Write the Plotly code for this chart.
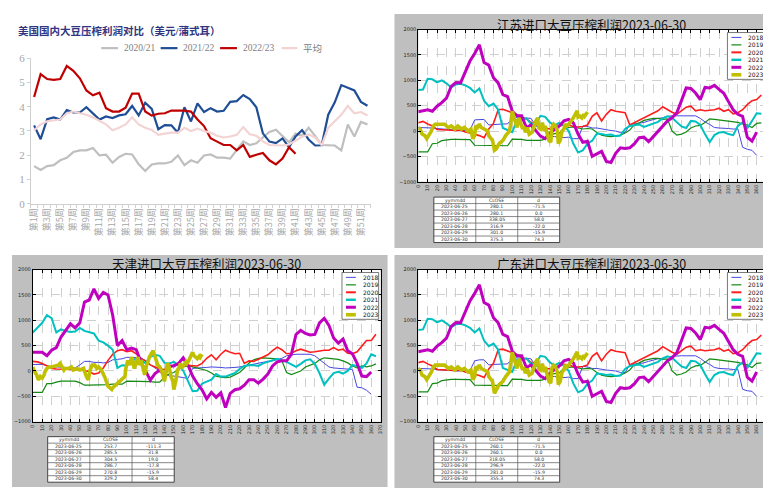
import plotly.graph_objects as go

W, H = 771, 488


def fx(p):
    return p / W


def fy(p):
    return 1 - p / H


# ---------------- panel 1: US soybean crush margin (USD/bushel) ----------------
week_no = list(range(1, 53))
week_labels = ["第%d周" % i for i in week_no]
us_names = ["2020/21", "2021/22", "2022/23", "平均"]
us_2020_21 = [1.55, 1.39, 1.55, 1.59, 1.79, 1.89, 2.13, 2.2, 2.2, 2.3,
              1.99, 2.02, 1.69, 1.93, 2.06, 2.03, 1.63, 1.35, 1.62, 1.66,
              1.66, 1.73, 1.99, 1.59, 1.79, 1.69, 1.99, 2.03, 1.9, 1.9,
              1.86, 2.2, 2.57, 2.42, 2.49, 2.73, 2.96, 3.05, 2.8, 2.53,
              2.89, 2.8, 3.13, 2.8, 2.42, 2.4, 2.4, 2.2, 3.27, 2.77,
              3.37, 3.27]
us_2021_22 = [3.23, 2.66, 3.49, 3.56, 3.47, 3.86, 3.76, 3.76, 3.98, 3.73,
              3.47, 3.6, 3.53, 3.64, 3.69, 4.03, 3.64, 4.16, 3.91, 3.07,
              3.24, 3.23, 2.93, 3.98, 3.39, 4.14, 3.78, 3.94, 3.8, 3.83,
              4.2, 4.23, 4.48, 4.31, 3.98, 2.9, 2.56, 2.5, 2.69, 2.33,
              2.77, 3.03, 2.65, 2.4, 2.41, 3.67, 4.18, 4.89, 4.77, 4.67,
              4.2, 4.04]
us_2022_23 = [4.4, 5.34, 5.14, 5.11, 5.14, 5.68, 5.48, 5.17, 4.67, 4.47,
              4.58, 3.94, 3.8, 3.8, 3.96, 4.54, 4.54, 3.8, 3.63, 3.71,
              3.73, 3.84, 3.84, 3.84, 3.8, 3.47, 3.2, 2.7, 2.56, 2.42,
              2.42, 2.2, 2.42, 1.93, 2.02, 2.09, 1.79, 1.62, 1.86, 2.33,
              2.06, None, None, None, None, None, None, None, None, None,
              None, None]
us_avg = [3.03, 3.27, 3.4, 3.43, 3.47, 3.73, 3.8, 3.73, 3.67, 3.56,
          3.43, 3.27, 3.03, 3.13, 3.27, 3.56, 3.27, 3.13, 3.04, 2.84,
          2.89, 2.93, 2.93, 3.13, 3.0, 3.09, 3.0, 2.93, 2.8, 2.73,
          2.77, 2.84, 3.16, 2.86, 2.8, 2.57, 2.42, 2.4, 2.4, 2.44,
          2.6, 2.76, 2.86, 2.73, 2.42, 3.13, 3.4, 3.67, 4.03, 3.73,
          3.78, 3.64]
us_ticks = [0, 1, 2, 3, 4, 5, 6]

# ---------------- panels 2-4: import soybean crush margin by day of year ----------------
days = list(range(0, 370, 5))
year_names = ["2018", "2019", "2020", "2021", "2022", "2023"]

js_2018 = [70, 70, 70, 60, 50, 40, 30, 20, 10, 10,
           10, 20, 220, 230, 230, 120, 130, 130, 140, 140,
           260, 270, 260, 250, 250, 100, 60, 0, -100, -110,
           -120, -130, -120, -150, -150, 100, 90, 60, 60, 40,
           30, 10, 0, -30, -30, 130, 140, 150, 170, 200,
           230, 250, 260, 290, 300, 300, 300, 300, 300, 300,
           250, 180, 130, 70, 60, 60, 50, 40, 40, -320,
           -360, -380, -480, None]
js_2019 = [-410, -410, -410, -250, -240, -190, -170, -165, -165, -165,
           -165, -170, -280, -280, -285, -285, -290, -290, -290, -290,
           -160, -160, -165, -185, -190, -190, -185, -160, -80, -50,
           -40, 60, 70, 80, 60, 40, 50, 40, -30, -80,
           -100, -110, -100, -80, -40, 20, 130, 160, 210, 230,
           250, 250, 230, 240, 0, -80, -60, -20, 60, 100,
           110, 170, 240, 230, 220, 200, 200, 190, 170, 140,
           120, 70, 150, 160]
js_2020 = [165, 190, 140, 100, 30, 20, 20, 15, 10, 20,
           -20, -40, -60, -90, -130, 40, 150, 420, 430, 400,
           360, 320, 260, 240, 170, 130, 80, 60, 40, 60,
           100, 130, 120, 90, 80, 90, 120, 290, 360, 200,
           330, 420, 390, 380, 360, 120, 165, 220, 250, 300,
           340, 400, 480, 420, 370, 330, 400, 470, 490, 400,
           420, 400, 410, 420, 450, 390, 420, 340, 360, 420,
           520, 600, 620, 710]
js_2021 = [810, 820, 1030, 1020, 960, 1000, 940, 860, 920, 930,
           900, 850, 760, 840, 600, 490, 540, 420, 60, 20,
           -20, 220, 220, 250, 140, 150, 300, 280, 170, 110,
           160, 110, 0, -250, -420, -380, -250, -190, -50, -60,
           -80, -70, -100, -90, 40, 100, 110, 130, 80, 110,
           150, 180, 250, 290, 260, 170, 90, 60, 200, 190,
           120, -60, -220, -80, -30, -20, -60, -80, 100, 170,
           60, 200, 350, 340]
js_2022 = [380, 400, 420, 390, 490, 560, 650, 880, 955, 950,
           1180, 1380, 1530, 1700, 1350, 1300, 1050, 950, 720, 680,
           390, 300, 300, 70, 120, 0, -100, -150, -40, 30,
           100, 200, 230, 160, -60, -220, -200, -500, -450, -400,
           -600, -620, -440, -330, -345, -330, -250, -130, -120, -210,
           -110, 0, 100, 200, 260, 360, 600, 850, 840, 750,
           620, 860, 850, 900, 820, 745, 580, 420, 330, 290,
           -120, -200, -20, None]
days_js_2023 = [0, 2, 4, 7, 9, 11, 14, 16, 18, 23,
                28, 32, 35, 39, 42, 46, 49, 53, 56, 58,
                60, 61, 63, 65, 67, 70, 74, 75, 79, 81,
                83, 86, 90, 93, 97, 98, 100, 102, 104, 105,
                107, 109, 111, 112, 114, 116, 118, 121, 123, 125,
                127, 128, 130, 132, 134, 135, 139, 141, 142, 144,
                146, 148, 149, 151, 153, 155, 156, 158, 160, 163,
                165, 167, 169, 170, 172, 174, 176, 177, 179, 180]
js_2023 = [70, 40, -60, -90, -150, -90, 0, 100, 135, 135,
           135, 70, 100, 40, 100, 40, 70, 0, 40, -150,
           -90, 100, 70, 135, 70, 40, 0, -90, -185, -380,
           -350, -250, -185, -90, 0, 100, 390, 260, 100, 70,
           260, 135, 40, 100, -25, 70, -60, -25, 100, 200,
           260, 70, 40, 165, 0, 100, -185, -220, 70, 135,
           100, 0, -250, -185, 0, 40, 135, 100, 135, 200,
           260, 330, 400, 275, 295, 260, 330, 295, 360, 375]

tj_2018 = [130, 130, 130, 110, 80, 80, 70, 70, 70, 60,
           120, 190, 190, 170, 170, 160, 170, 220, 230, 240,
           270, 270, 270, 260, 200, 120, 60, 0, -40, -90,
           -100, -110, -130, -150, 50, 60, 60, 70, 80, 80,
           70, 60, 60, 70, 80, 100, 120, 140, 160, 180,
           190, 200, 220, 250, 300, 320, 330, 330, 330, 330,
           300, 230, 160, 80, 60, 50, 50, 40, 30, -320,
           -330, -380, -460, None]
tj_2019 = [-420, -420, -420, -250, -250, -220, -200, -200, -200, -200,
           -230, -280, -280, -280, -280, -280, -270, -260, -260, -260,
           -200, -200, -200, -200, -200, -210, -220, -220, -120, -60,
           -30, 40, 80, 100, 80, 60, 40, 10, -40, -100,
           -120, -130, -120, -80, -30, 60, 160, 220, 250, 260,
           250, 240, 240, 200, -30, -70, -40, 0, 80, 120,
           150, 220, 260, 250, 240, 230, 200, 160, 100, 60,
           100, 80, 100, 140]
tj_2020 = [190, 180, 150, 100, 50, 40, 40, 30, 30, 30,
           20, 5, -10, -60, -40, 60, 210, 330, 400, 420,
           380, 400, 340, 245, 200, 120, 80, 40, 30, 60,
           115, 140, 115, 110, 100, 100, 150, 250, 320, 220,
           330, 410, 370, 340, 350, 150, 200, 190, 230, 275,
           320, 400, 470, 420, 340, 350, 400, 430, 400, 370,
           380, 400, 410, 410, 460, 410, 430, 350, 340, 380,
           500, 600, 600, 725]
tj_2021 = [760, 850, 950, 1100, 1040, 760, 820, 790, 770, 780,
           850, 790, 760, 740, 600, 565, 500, 420, 60, 115,
           110, 200, 245, 220, 150, 280, 320, 300, 160, 150,
           180, 110, 10, -200, -400, -390, -250, -210, -170, -60,
           -110, -110, -75, -40, 40, 100, 115, 115, 100, 150,
           180, 210, 240, 210, 180, 130, 80, 140, 210, 230,
           140, -45, -270, -150, -40, -15, -50, 0, 115, 100,
           60, 150, 330, 290]
tj_2022 = [370, 370, 370, 300, 410, 460, 670, 800, 930, 850,
           950, 1360, 1400, 1620, 1430, 1550, 1500, 1100, 500, 600,
           420, 450, 420, 180, 0, -180, -50, 20, -80, 100,
           100, 150, 260, 120, -100, -250, -370, -550, -420, -520,
           -430, -720, -440, -370, -350, -280, -170, -170, -240, -160,
           -60, 100, 180, 200, 200, 330, 720, 800, 740, 710,
           720, 950, 1040, 900, 650, 550, 630, 400, 340, 150,
           -100, -110, -20, None]
days_tj_2023 = [0, 1, 4, 6, 8, 10, 12, 13, 15, 17,
                20, 24, 27, 29, 31, 33, 34, 38, 41, 43,
                47, 50, 54, 55, 57, 59, 61, 63, 66, 68,
                70, 73, 75, 77, 80, 84, 85, 87, 91, 94,
                98, 99, 101, 103, 105, 106, 108, 110, 112, 113,
                115, 117, 119, 121, 122, 124, 126, 128, 129, 131,
                133, 135, 136, 138, 140, 142, 143, 145, 147, 149,
                150, 152, 154, 156, 157, 159, 161, 163, 164, 166,
                168, 170, 171, 173, 175, 177, 178, 180]
tj_2023 = [80, 20, -75, -175, -110, -140, -75, -10, 50, 80,
           80, 95, 115, 150, 80, 20, 50, 50, 80, 20,
           50, 20, 50, -10, -110, -175, 20, 115, 115, 50,
           80, 20, -45, -140, -300, -365, -330, -300, -240, -175,
           -110, 50, 210, 115, 275, 180, 50, 180, 275, 115,
           210, 80, -75, 115, 150, 275, 340, 400, 340, 210,
           115, 80, 50, -45, -205, 20, 150, 80, -110, -205,
           -365, -205, 20, 80, 150, 80, 115, 180, 150, 210,
           310, 370, 310, 275, 245, 290, 265, 330]

gd_2018 = [50, 50, 50, 40, 30, 20, 10, 0, 0, 0,
           0, 10, 200, 220, 220, 120, 130, 130, 140, 140,
           250, 260, 250, 240, 240, 100, 60, 0, -100, -110,
           -120, -130, -120, -150, -150, 90, 80, 50, 50, 30,
           20, 10, 0, -30, -30, 120, 130, 140, 160, 190,
           220, 240, 250, 280, 290, 300, 300, 300, 300, 300,
           250, 180, 130, 70, 50, 50, 40, 30, 30, -360,
           -390, -400, -500, None]
gd_2019 = js_2019
gd_2020 = js_2020
gd_2021 = js_2021
gd_2022 = js_2022
gd_2023 = [50, 20, -80, -110, -170, -110, -20, 80, 115, 115,
           115, 50, 80, 20, 80, 20, 50, -20, 20, -170,
           -110, 80, 50, 115, 50, 20, -20, -110, -205, -440,
           -370, -270, -205, -110, -20, 80, 370, 240, 80, 50,
           240, 115, 20, 80, -45, 50, -80, -45, 80, 180,
           240, 50, 20, 145, -20, 80, -205, -240, 50, 115,
           80, -20, -270, -205, -20, 20, 115, 80, 115, 180,
           240, 310, 380, 255, 275, 240, 310, 275, 340, 355]

table_head = ["yymmdd", "CLOSE", "d"]
table_dates = ["2023-06-25", "2023-06-26", "2023-06-27", "2023-06-28", "2023-06-29", "2023-06-30"]
js_close = ["280.1", "280.1", "338.05", "316.9", "301.0", "375.3"]
js_d = ["-71.5", "0.0", "58.0", "-22.0", "-15.9", "74.3"]
tj_close = ["253.7", "285.5", "304.5", "286.7", "270.8", "329.2"]
tj_d = ["-111.3", "31.8", "19.0", "-17.8", "-15.9", "58.4"]
gd_close = ["260.1", "260.1", "318.05", "296.9", "281.0", "355.3"]
gd_d = ["-71.5", "0.0", "58.0", "-22.0", "-15.9", "74.3"]

# ---------------- styles ----------------
us_colors = ["#bfbfbf", "#1f4e96", "#c00000", "#f3d3d3"]
yr_colors = ["#4646e0", "#138a13", "#ff1c1c", "#00c0c0", "#bf00bf", "#c0c000"]
yr_widths = [1.0, 1.2, 1.6, 2.0, 3.0, 3.6]
leg_widths = [1.0, 1.2, 2.0, 2.4, 3.0, 3.6]
GREY = "#bfbfbf"
SERIF = "Liberation Serif, Noto Sans CJK SC"
SANS = "Noto Sans CJK SC, DejaVu Sans"

fig = go.Figure()
shapes = []
annotations = []

# ---------------- panel 1 ----------------
for name, vals, col in zip(us_names, [us_2020_21, us_2021_22, us_2022_23, us_avg], us_colors):
    fig.add_trace(go.Scatter(x=week_no, y=vals, name=name, mode="lines",
                             line=dict(color=col, width=2.2), xaxis="x", yaxis="y",
                             showlegend=False))

annotations.append(dict(xref="paper", yref="paper", x=fx(4), y=fy(17), xanchor="left",
                        yanchor="middle", showarrow=False,
                        text="<b>美国国内大豆压榨利润对比（美元/蒲式耳）</b>",
                        font=dict(family=SERIF, size=10.5, color="#2f3580")))
us_leg_line_x = [(90, 107), (150, 167), (210, 227), (272, 288)]
for (a, b), name, col in zip(us_leg_line_x, us_names, us_colors):
    shapes.append(dict(type="line", xref="paper", yref="paper", x0=fx(a), x1=fx(b),
                       y0=fy(35), y1=fy(35), line=dict(color=col, width=2.2)))
    annotations.append(dict(xref="paper", yref="paper", x=fx(b + 4), y=fy(35),
                            xanchor="left", yanchor="middle", showarrow=False, text=name,
                            font=dict(family=SERIF, size=9.5, color="#808080")))

layout_axes = dict(
    xaxis=dict(domain=[fx(19), fx(362)], range=[0.5, 52.5], anchor="y",
               tickmode="array", tickvals=week_no[::2], ticktext=week_labels[::2],
               tickangle=-90, tickfont=dict(family=SANS, size=9, color="#a6a6a6"),
               showline=True, linecolor="#d0d0d0", linewidth=1, showgrid=False,
               zeroline=False, ticks="",
               minor=dict(tickvals=[i + 0.5 for i in range(53)], ticks="outside",
                          ticklen=3, tickcolor="#d0d0d0", showgrid=False)),
    yaxis=dict(domain=[fy(194.5), fy(45.3)], range=[0, 6], anchor="x",
               tickmode="array", tickvals=us_ticks,
               tickfont=dict(family=SERIF, size=11, color="#a6a6a6"),
               showline=True, linecolor="#d0d0d0", linewidth=1, showgrid=False,
               zeroline=False, ticks="outside", ticklen=3, tickcolor="#d0d0d0"),
)

# ---------------- panels 2-4 ----------------
panels = [
    dict(ax="2", title="江苏进口大豆压榨利润2023-06-30",
         series=[(days, js_2018), (days, js_2019), (days, js_2020), (days, js_2021),
                 (days, js_2022), (days_js_2023, js_2023)],
         grey=(386, 771, 0, 240), box=(410, 761, 16, 172), title_xy=(585, 11),
         leg=(722, 19), table=(425.7, 552.7, 187.7, 234.3), close=js_close, d=js_d),
    dict(ax="3", title="天津进口大豆压榨利润2023-06-30",
         series=[(days, tj_2018), (days, tj_2019), (days, tj_2020), (days, tj_2021),
                 (days, tj_2022), (days_tj_2023, tj_2023)],
         grey=(0, 379, 247, 485), box=(21, 372, 262, 418), title_xy=(196, 256),
         leg=(333, 265), table=(36, 163.7, 433.3, 480), close=tj_close, d=tj_d),
    dict(ax="4", title="广东进口大豆压榨利润2023-06-30",
         series=[(days, gd_2018), (days, gd_2019), (days, gd_2020), (days, gd_2021),
                 (days, gd_2022), (days_js_2023, gd_2023)],
         grey=(386, 771, 247, 488), box=(410, 761, 262, 418), title_xy=(585, 256),
         leg=(722, 265), table=(425.7, 552.7, 433.3, 480), close=gd_close, d=gd_d),
]

for p in panels:
    gx0, gx1, gy0, gy1 = p["grey"]
    bx0, bx1, by0, by1 = p["box"]
    shapes.append(dict(type="rect", xref="paper", yref="paper", layer="below",
                       x0=fx(gx0), x1=fx(gx1), y0=fy(gy1), y1=fy(gy0),
                       fillcolor=GREY, line=dict(width=0)))
    shapes.append(dict(type="rect", xref="paper", yref="paper", layer="below",
                       x0=fx(bx0), x1=fx(bx1), y0=fy(by1), y1=fy(by0),
                       fillcolor="white", line=dict(width=0)))
    xa, ya = "x" + p["ax"], "y" + p["ax"]
    for (xs, ys), name, col, wd in zip(p["series"], year_names, yr_colors, yr_widths):
        fig.add_trace(go.Scatter(x=xs, y=ys, name=name, mode="lines",
                                 line=dict(color=col, width=wd), xaxis=xa, yaxis=ya,
                                 showlegend=False))
    axis_common = dict(showline=True, mirror="ticks", linecolor="black", linewidth=1,
                       ticks="inside", ticklen=3, tickcolor="black", zeroline=False,
                       showgrid=True, gridcolor="#cfcfcf", griddash="dash", gridwidth=0.8,
                       tickfont=dict(family="DejaVu Sans", size=5, color="#222"))
    layout_axes["xaxis" + p["ax"]] = dict(domain=[fx(bx0), fx(bx1)], range=[0, 370],
                                          anchor=ya, dtick=10, tick0=0, tickangle=-90,
                                          **axis_common)
    layout_axes["yaxis" + p["ax"]] = dict(domain=[fy(by1), fy(by0)], range=[-1000, 2000],
                                          anchor=xa, dtick=500, tick0=0, **axis_common)
    # title
    tx, ty = p["title_xy"]
    annotations.append(dict(xref="paper", yref="paper", x=fx(tx), y=fy(ty),
                            xanchor="center", yanchor="middle", showarrow=False,
                            text=p["title"], font=dict(family=SANS, size=12.5, color="#111")))
    # legend box
    lx, ly = p["leg"]
    shapes.append(dict(type="rect", xref="paper", yref="paper", x0=fx(lx), x1=fx(lx + 37),
                       y0=fy(ly + 48), y1=fy(ly), fillcolor="white",
                       line=dict(color="#555", width=0.8)))
    for i, (name, col, wd) in enumerate(zip(year_names, yr_colors, leg_widths)):
        ry = ly + 5 + 7.66 * i
        shapes.append(dict(type="line", xref="paper", yref="paper", x0=fx(lx + 4),
                           x1=fx(lx + 14), y0=fy(ry), y1=fy(ry),
                           line=dict(color=col, width=wd)))
        annotations.append(dict(xref="paper", yref="paper", x=fx(lx + 19), y=fy(ry),
                                xanchor="left", yanchor="middle", showarrow=False,
                                text=name, font=dict(family="DejaVu Sans", size=6, color="#111")))
    # data table
    t0, t1, u0, u1 = p["table"]
    nrow = len(table_dates) + 1
    rh = (u1 - u0) / nrow
    cw = (t1 - t0) / 3
    shapes.append(dict(type="rect", xref="paper", yref="paper", x0=fx(t0), x1=fx(t1),
                       y0=fy(u1), y1=fy(u0), fillcolor="white",
                       line=dict(color="#333", width=0.9)))
    for r in range(1, nrow):
        shapes.append(dict(type="line", xref="paper", yref="paper", x0=fx(t0), x1=fx(t1),
                           y0=fy(u0 + r * rh), y1=fy(u0 + r * rh),
                           line=dict(color="#555", width=0.7)))
    for c in range(1, 3):
        shapes.append(dict(type="line", xref="paper", yref="paper", x0=fx(t0 + c * cw),
                           x1=fx(t0 + c * cw), y0=fy(u1), y1=fy(u0),
                           line=dict(color="#555", width=0.7)))
    rows = [table_head] + [[a, b, c] for a, b, c in zip(table_dates, p["close"], p["d"])]
    for r, row in enumerate(rows):
        for c, txt in enumerate(row):
            annotations.append(dict(xref="paper", yref="paper", x=fx(t0 + (c + 0.5) * cw),
                                    y=fy(u0 + (r + 0.5) * rh), xanchor="center",
                                    yanchor="middle", showarrow=False, text=txt,
                                    font=dict(family="DejaVu Sans", size=4.6, color="#333")))

fig.update_layout(width=W, height=H, margin=dict(l=0, r=0, t=0, b=0),
                  paper_bgcolor="white", plot_bgcolor="rgba(0,0,0,0)",
                  showlegend=False, shapes=shapes, annotations=annotations,
                  **layout_axes)

fig.write_html("out.html")
